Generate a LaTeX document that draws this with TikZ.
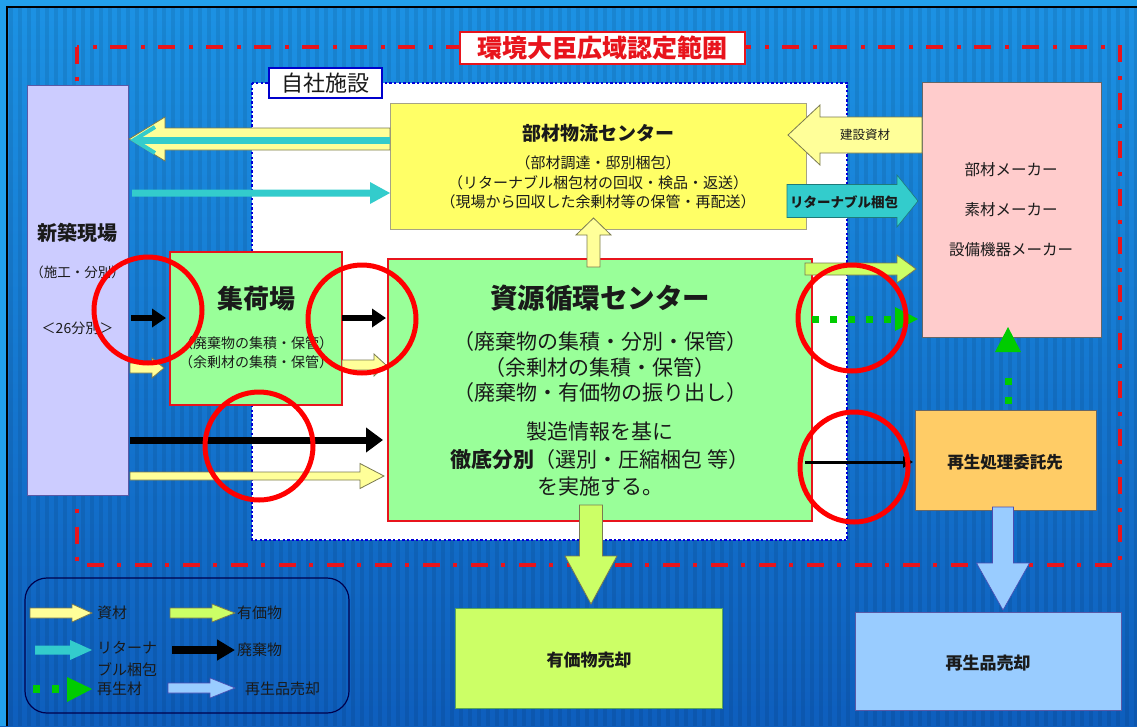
\documentclass[tikz,border=0pt]{standalone}
\usepackage{fontspec}
\setmainfont{Noto Sans CJK JP}
\usetikzlibrary{calc,arrows.meta}
\definecolor{bgtop}{HTML}{1C92E4}
\definecolor{bgbot}{HTML}{0E5EBD}
\definecolor{topstrip}{HTML}{22A0EC}
\definecolor{shizai}{HTML}{FFFF99}
\definecolor{yuka}{HTML}{CCFF66}
\definecolor{teal}{HTML}{33CCCC}
\definecolor{lblue}{HTML}{99CCFF}
\definecolor{gdot}{HTML}{00CC00}
\definecolor{txt}{HTML}{1A1A1A}
\definecolor{frred}{HTML}{E8141C}
\definecolor{arrline}{HTML}{7A7A50}
\newcommand\fsz[1]{\fontsize{#1}{#1}\selectfont}
% horizontal block arrow: from, to, shaft half, head half, head length, style
\newcommand\harrow[6]{\path[#6] let \p1=#1, \p2=#2, \n1={sign(\x2-\x1)} in
 (\x1,\y1+#3) -- ({\x2-(\n1)*#5},\y1+#3) -- ({\x2-(\n1)*#5},\y1+#4) -- (\x2,\y1)
 -- ({\x2-(\n1)*#5},\y1-#4) -- ({\x2-(\n1)*#5},\y1-#3) -- (\x1,\y1-#3) -- cycle;}
% vertical block arrow
\newcommand\varrow[6]{\path[#6] let \p1=#1, \p2=#2, \n1={sign(\y2-\y1)} in
 (\x1+#3,\y1) -- (\x1+#3,{\y2-(\n1)*#5}) -- (\x1+#4,{\y2-(\n1)*#5}) -- (\x1,\y2)
 -- (\x1-#4,{\y2-(\n1)*#5}) -- (\x1-#3,{\y2-(\n1)*#5}) -- (\x1-#3,\y1) -- cycle;}
\tikzset{
 boxn/.style={anchor=north west, inner sep=0pt, outer sep=0pt},
 redbox/.style={boxn, draw=frred, line width=2pt, fill=green!40!white},
 tx/.style={inner sep=0pt, outer sep=0pt, text=txt},
 shizaiA/.style={fill=shizai, draw=arrline, line width=0.8pt},
 yukaA/.style={fill=yuka, draw=arrline, line width=0.8pt},
 tealA/.style={fill=teal, draw=teal!60!black, line width=0.6pt},
 lblueA/.style={fill=lblue, draw=blue!40!gray, line width=0.6pt},
 haiki/.style={draw=black},
 gdotline/.style={draw=gdot, line width=7pt},
 circ/.style={draw=red, line width=5pt},
}
\begin{document}
\begin{tikzpicture}[x=1pt,y=-1pt]
\useasboundingbox (0,0) rectangle (1137,726);
% background
\shade[top color=bgtop, bottom color=bgbot] (0,0) rectangle (1137,726);
\foreach \i in {0,9,...,1134} {\fill[black,opacity=0.08] (\i,7) rectangle ++(4,719);}
\fill[topstrip] (0,0) rectangle (1137,7);
\fill[topstrip] (0,0) rectangle (7,726);
\draw[black,line width=2pt] (7,726) -- (7,7) -- (1137,7);
% frame
\draw[frred, line width=4.5pt, dash pattern=on 17pt off 13pt on 4pt off 14pt] (77,47) rectangle (1120,565);
% own facilities
\draw[fill=white, draw=blue!85!black, line width=2.6pt, dash pattern=on 2.4pt off 2.2pt] (252,83) rectangle (847,540);
\node[draw=frred, line width=1.5pt, fill=white, minimum width=285pt, minimum height=32pt, text=frred, inner sep=0pt, font=\bfseries\fsz{25}] (kankyo) at (602.5,48) {環境大臣広域認定範囲};
\node[draw=blue!80!black, line width=2pt, fill=white, minimum width=113pt, minimum height=30pt, inner sep=0pt, text=txt, font=\fsz{22}] (jishalbl) at (325,83) {自社施設};
% boxes
\node[boxn, fill=blue!20!white, draw=gray!70!blue, line width=1pt, minimum width=101pt, minimum height=410pt] (site) at (27,85) {};
\node[redbox, fill={rgb,255:red,153;green,255;blue,153}, minimum width=172pt, minimum height=153pt] (shuka) at (170,252) {};
\node[boxn, fill={rgb,255:red,255;green,255;blue,102}, draw=gray!80!yellow, line width=1pt, minimum width=416pt, minimum height=126pt] (buzai) at (390,103) {};
\node[redbox, fill={rgb,255:red,153;green,255;blue,153}, minimum width=424pt, minimum height=262pt] (shigen) at (388,259) {};
\node[boxn, fill={rgb,255:red,255;green,204;blue,204}, draw=gray!80!black, line width=1pt, minimum width=179pt, minimum height=255pt] (maker) at (922,82) {};
\node[boxn, fill={rgb,255:red,255;green,204;blue,102}, draw=gray!80!black, line width=1pt, minimum width=181pt, minimum height=100pt] (saisei) at (915,410) {};
\node[boxn, fill=lblue, draw=blue!30!gray, line width=1pt, minimum width=266pt, minimum height=98pt] (sale) at (855,612) {};
\node[boxn, fill=yuka, draw=green!30!gray, line width=1pt, minimum width=267pt, minimum height=100pt] (yukasale) at (455,608) {};
% arrows: buzai -> site (materials + returnable)
\harrow{(buzai.west |- 0,139)}{($(site.east |- 0,139)+(1,0)$)}{11pt}{22pt}{36pt}{shizaiA}
\draw[teal, line width=7pt] (buzai.west |- 0,140) -- ($(site.east |- 0,140)+(8,0)$);
\draw[teal, line width=4pt, line join=miter] ($(site.east |- 0,127)+(27,0)$) -- ($(site.east |- 0,140)+(6,0)$) coordinate (tt) -- ($(site.east |- 0,153)+(27,0)$);
% site -> buzai returnable
\harrow{($(site.east |- 0,193)+(4,0)$)}{(buzai.west |- 0,193)}{3.5pt}{11pt}{20pt}{fill=teal}
% maker -> buzai construction materials
\harrow{(maker.west |- 0,135)}{($(buzai.east |- 0,135)+(-18,0)$)}{18pt}{30pt}{32pt}{shizaiA}
% buzai -> maker returnable
\harrow{($(buzai.east |- 0,201)+(-19,0)$)}{($(maker.west |- 0,201)+(-4,0)$)}{16.5pt}{26pt}{21pt}{tealA}
% shigen -> maker valuables
\harrow{($(shigen.east |- 0,269)+(-7,0)$)}{($(maker.west |- 0,269)+(-6,0)$)}{6pt}{14pt}{19pt}{yukaA}
% shigen -> maker recycled (dotted)
\draw[gdotline, dash pattern=on 6.5pt off 11.5pt] (shigen.east |- 0,319) -- ($(maker.west |- 0,319)+(-27,0)$) coordinate (g1);
\path[fill=gdot] let \p1=($(maker.west |- 0,319)+(-4,0)$) in (\x1-23pt,\y1-12pt) -- (\x1,\y1) -- (\x1-23pt,\y1+12pt) -- cycle;
% shigen -> saisei waste
\draw[haiki, line width=3pt, -{Triangle[length=10pt,width=11pt]}] ($(shigen.east |- 0,462)+(-7,0)$) -- ($(saisei.west |- 0,462)+(-2,0)$);
% saisei -> maker recycled (dotted up)
\draw[gdotline, dash pattern=on 7pt off 12pt] ($(saisei.north)+(2.5,-6)$) -- ($(saisei.north)+(2.5,-33)$);
\path[fill=gdot] let \p1=($(maker.south)+(-3.5,-10)$) in (\x1-13pt,\y1-25pt) -- (\x1,\y1) -- (\x1+13pt,\y1-25pt) -- cycle;
% saisei -> sale
\varrow{($(saisei.south)+(-2.5,-3)$)}{($(sale.north -| saisei.south)+(-2.5,-2)$)}{10.5pt}{26.5pt}{47pt}{lblueA}
% shigen -> yuka sale
\varrow{($(shigen.south)+(-9,-16)$)}{($(yukasale.north -| shigen.south)+(-9,-4)$)}{11.5pt}{26pt}{48pt}{yukaA}
% shigen -> buzai (up)
\varrow{($(shigen.north)+(-6.5,8)$)}{($(buzai.south)+(-4.5,-11)$)}{6.5pt}{17.5pt}{17pt}{shizaiA}
% site -> shuka
\draw[haiki, line width=6pt, -{Triangle[length=14pt,width=18pt]}] ($(site.east |- 0,318)+(3,0)$) -- ($(shuka.west |- 0,318)+(-4,0)$);
\harrow{($(site.east |- 0,368)+(2,0)$)}{($(shuka.west |- 0,368)+(-6,0)$)}{5pt}{10pt}{12pt}{shizaiA}
% shuka -> shigen
\draw[haiki, line width=6pt, -{Triangle[length=14pt,width=18pt]}] (shuka.east |- 0,318) -- ($(shigen.west |- 0,318)+(-2,0)$);
\harrow{(shuka.east |- 0,365)}{($(shigen.west |- 0,365)+(-2,0)$)}{5pt}{11pt}{12pt}{shizaiA}
% site -> shigen direct
\draw[haiki, line width=7pt, -{Triangle[length=17pt,width=24pt]}] ($(site.east |- 0,440)+(2,0)$) -- ($(shigen.west |- 0,440)+(-5,0)$);
\harrow{($(site.east |- 0,476)+(2,0)$)}{($(shigen.west |- 0,476)+(-4,0)$)}{4pt}{12.5pt}{24pt}{shizaiA}
% texts
\node[tx, font=\bfseries\fsz{20}] (t1) at (77.5,233) {新築現場};
\node[tx, font=\fsz{13.5}] (t2) at (77.5,272) {（施工・分別）};
\node[tx, font=\fsz{14}] (t3) at (77.5,328) {＜26分別＞};
\node[tx, font=\bfseries\fsz{26}] (t4) at (256,299) {集荷場};
\node[tx, font=\fsz{14}] (t5) at (256,343) {（廃棄物の集積・保管）};
\node[tx, font=\fsz{14}] (t6) at (256,362) {（余剰材の集積・保管）};
\node[tx, font=\bfseries\fsz{19}] (t7) at (598,133) {部材物流センター};
\node[tx, font=\fsz{15}] (t8) at (598,163) {（部材調達・邸別梱包）};
\node[tx, font=\fsz{15}] (t9) at (598,183) {（リターナブル梱包材の回収・検品・返送）};
\node[tx, font=\fsz{15}] (t10) at (598,202) {（現場から回収した余剰材等の保管・再配送）};
\node[tx, font=\bfseries\fsz{27.5}] (t11) at (600,298) {資源循環センター};
\node[tx, font=\fsz{21}] (t12) at (600,342) {（廃棄物の集積・分別・保管）};
\node[tx, font=\fsz{21}] (t13) at (600,368) {（余剰材の集積・保管）};
\node[tx, font=\fsz{21}] (t14) at (600,393) {（廃棄物・有価物の振り出し）};
\node[tx, font=\fsz{21}] (t15) at (600,432) {製造情報を基に};
\node[tx, font=\fsz{21}] (t16) at (600,460) {{\bfseries 徹底分別}（選別・圧縮梱包 等）};
\node[tx, font=\fsz{21}] (t17) at (600,487) {を実施する。};
\node[tx, font=\fsz{15.5}] (t18) at (1011,170) {部材メーカー};
\node[tx, font=\fsz{15.5}] (t19) at (1011,210) {素材メーカー};
\node[tx, font=\fsz{15.5}] (t20) at (1011,250) {設備機器メーカー};
\node[tx, font=\bfseries\fsz{16.5}] (t21) at (1005,462) {再生処理委託先};
\node[tx, font=\bfseries\fsz{17}] (t22) at (988,663) {再生品売却};
\node[tx, font=\bfseries\fsz{17}] (t23) at (589,660) {有価物売却};
\node[tx, font=\fsz{12.5}] (t24) at (865,135) {建設資材};
\node[tx, font=\bfseries\fsz{13.5}] (t25) at (844,202) {リターナブル梱包};
% legend
\draw[draw=blue!30!black, line width=1.2pt, rounded corners=22pt] (25,578) rectangle (349,713);
\harrow{(30,613)}{(92,613)}{5pt}{9pt}{20pt}{shizaiA}
\harrow{(170,613)}{(235,613)}{5pt}{9pt}{23pt}{yukaA}
\harrow{(35,650)}{(92,650)}{4.5pt}{10pt}{22pt}{fill=teal}
\draw[haiki, line width=8pt, -{Triangle[length=18pt,width=20pt]}] (172,650) -- (235,650);
\fill[gdot] (33,685) rectangle (40,693);
\fill[gdot] (52,685) rectangle (59,693);
\fill[gdot] (67,677) -- (92,689) -- (67,702) -- cycle;
\harrow{(168,688)}{(235,688)}{5pt}{10pt}{25pt}{lblueA}
\node[tx, anchor=west, font=\fsz{15}] (l1) at (97,613) {資材};
\node[tx, anchor=west, font=\fsz{15}] (l2) at (237,613) {有価物};
\node[tx, anchor=west, font=\fsz{15}] (l3) at (97,648) {リターナ};
\node[tx, anchor=west, font=\fsz{15}] (l4) at (97,670) {ブル梱包};
\node[tx, anchor=west, font=\fsz{15}] (l5) at (237,650) {廃棄物};
\node[tx, anchor=west, font=\fsz{15}] (l6) at (97,689) {再生材};
\node[tx, anchor=west, font=\fsz{15}] (l7) at (245,689) {再生品売却};
% red circles
\draw[circ] (148,310) ellipse [x radius=54pt, y radius=53pt];
\draw[circ] (362,319) ellipse [x radius=54pt, y radius=54pt];
\draw[circ] (259,446) ellipse [x radius=54pt, y radius=54pt];
\draw[circ] (852,318) ellipse [x radius=54pt, y radius=53pt];
\draw[circ] (854,467) ellipse [x radius=54pt, y radius=55pt];
\end{tikzpicture}
\end{document}
